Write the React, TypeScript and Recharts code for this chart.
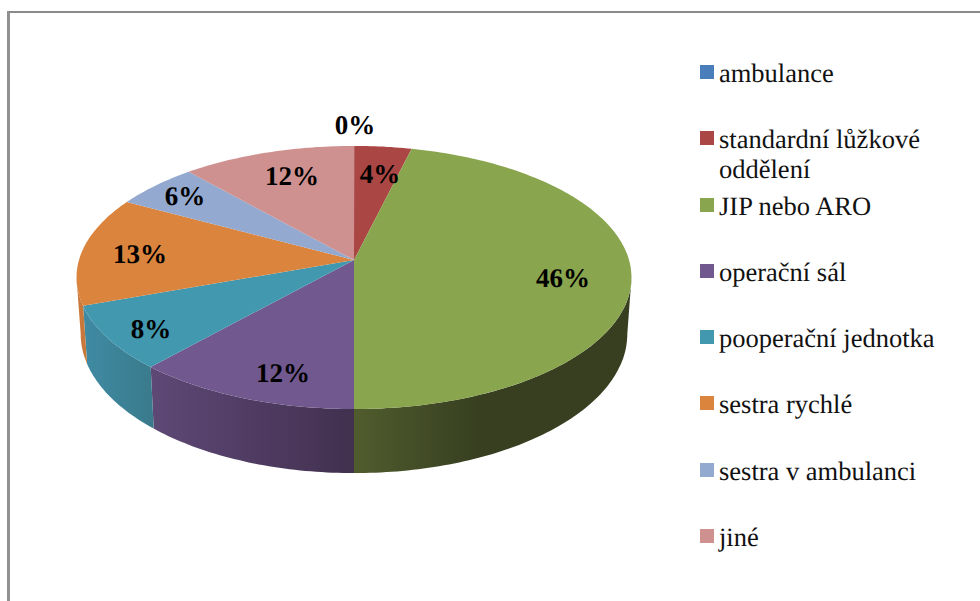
import { PieChart, Pie, Legend } from 'recharts';

const categories = [
  'ambulance',
  'standardní lůžkové oddělení',
  'JIP nebo ARO',
  'operační sál',
  'pooperační jednotka',
  'sestra rychlé',
  'sestra v ambulanci',
  'jiné',
];
const shares = [0.01, 3.79, 46.2, 11.6, 7.9, 13.4, 5.6, 11.5];
const topColors = ['#4a7ebb', '#aa4643', '#89a54e', '#71588f', '#4198af', '#db843d', '#93a9cf', '#cf9190'];
const wallColors = [
  ['#3a6496', '#3a6496'],
  ['#7d3331', '#7d3331'],
  ['#515c2e', '#373f20'],
  ['#5e4876', '#42304f'],
  ['#3f8ba3', '#3a7a8c'],
  ['#c8783a', '#c8783a'],
  ['#7c90b0', '#7c90b0'],
  ['#b07c7b', '#b07c7b'],
];
// label centres, relative to the pie centre
const labelOffsets = [
  [1, -135],
  [26, -86],
  [209, 18],
  [-71, 113],
  [-203, 69],
  [-214, -6],
  [-169, -64],
  [-62, -84],
];

const data = categories.map((name, i) => ({ name, value: shares[i], fill: topColors[i] }));

const CX = 354;
const CY = 260;
const RADIUS = 275;
// fake 3D: the flat disc is squashed and given some perspective
const SQUASH = 0.47;
const PERSPECTIVE = 0.133;
const DEPTH = 55.5;
const BOTTOM_SCALE = 0.985;

function project(cx: number, cy: number, r: number, deg: number, lower = false) {
  // deg = clockwise from 12 o'clock
  const a = (deg * Math.PI) / 180;
  const u = Math.sin(a);
  const v = -Math.cos(a);
  const s = 1 / (1 - PERSPECTIVE * v);
  const x = cx + r * u * s * (lower ? BOTTOM_SCALE : 1);
  const y = cy + (r * SQUASH * v + (lower ? DEPTH : 0)) * s;
  return [x, y];
}

function arcPoints(cx: number, cy: number, r: number, from: number, to: number, lower = false) {
  const pts = [];
  const steps = Math.max(2, Math.ceil(to - from));
  for (let i = 0; i <= steps; i++) {
    pts.push(project(cx, cy, r, from + ((to - from) * i) / steps, lower));
  }
  return pts;
}

const toPath = (pts: number[][]) => pts.map((p, i) => `${i ? 'L' : 'M'}${p[0].toFixed(1)},${p[1].toFixed(1)}`).join(' ');

function Slice3D(props: any) {
  const { cx, cy, outerRadius, startAngle, endAngle, fill, index } = props;
  const from = 90 - startAngle;
  const to = 90 - endAngle;
  // only the part of the wall that faces the viewer
  const wallFrom = Math.max(from, 97.6);
  const wallTo = Math.min(to, 262.4);
  const top = [[cx, cy], ...arcPoints(cx, cy, outerRadius, from, to)];
  return (
    <g>
      {wallTo > wallFrom && (
        <path
          d={
            toPath([
              ...arcPoints(cx, cy, outerRadius, wallFrom, wallTo),
              ...arcPoints(cx, cy, outerRadius, wallFrom, wallTo, true).reverse(),
            ]) + ' Z'
          }
          fill={`url(#wall${index})`}
        />
      )}
      <path d={toPath(top) + ' Z'} fill={fill} />
    </g>
  );
}

function sliceLabel(props: any) {
  const { cx, cy, index, value } = props;
  const [dx, dy] = labelOffsets[index];
  return (
    <text
      x={cx + dx}
      y={cy + dy}
      textAnchor="middle"
      dominantBaseline="central"
      fontFamily="'Liberation Serif'"
      fontWeight="bold"
      fontSize={27}
      fill="#000"
      style={{ textRendering: 'geometricPrecision' }}
    >
      {Math.round(value)}%
    </text>
  );
}

function LegendList() {
  return (
    <div style={{ fontFamily: "'Liberation Serif'", fontSize: 26.5, color: '#111', textRendering: 'geometricPrecision' }}>
      {categories.map((name, i) => (
        <div key={name} style={{ height: 66.3, display: 'flex', alignItems: 'flex-start' }}>
          <span style={{ width: 14, height: 14, marginTop: 7, marginRight: 5, flexShrink: 0, background: topColors[i] }} />
          <span style={{ lineHeight: '30px' }}>{name}</span>
        </div>
      ))}
    </div>
  );
}

export default function App() {
  return (
    <div style={{ position: 'absolute', left: 0, top: 0, width: 980, height: 601, overflow: 'hidden', background: '#fff' }}>
      <div
        style={{
          position: 'absolute',
          left: 7,
          top: 11,
          width: 980,
          height: 620,
          borderLeft: '3px solid #919191',
          borderTop: '2px solid #8a8a8a',
        }}
      />
      <PieChart width={980} height={601} margin={{ top: 0, right: 0, bottom: 0, left: 0 }} style={{ position: 'absolute', left: 0, top: 0 }}>
        <defs>
          {wallColors.map((c, i) => (
            <linearGradient key={i} id={`wall${i}`} x1="0" y1="0" x2="1" y2="0">
              <stop offset="0%" stopColor={c[0]} />
              <stop offset={i === 2 ? '45%' : '100%'} stopColor={c[1]} />
            </linearGradient>
          ))}
        </defs>
        <Pie
          data={data}
          dataKey="value"
          nameKey="name"
          cx={CX}
          cy={CY}
          outerRadius={RADIUS}
          startAngle={90}
          endAngle={-270}
          paddingAngle={0}
          stroke="none"
          shape={Slice3D}
          label={sliceLabel}
          labelLine={false}
          isAnimationActive={false}
        />
        <Legend
          content={<LegendList />}
          layout="vertical"
          wrapperStyle={{ position: 'absolute', left: 700, top: 58, width: 250, bottom: 'auto' }}
        />
      </PieChart>
    </div>
  );
}
